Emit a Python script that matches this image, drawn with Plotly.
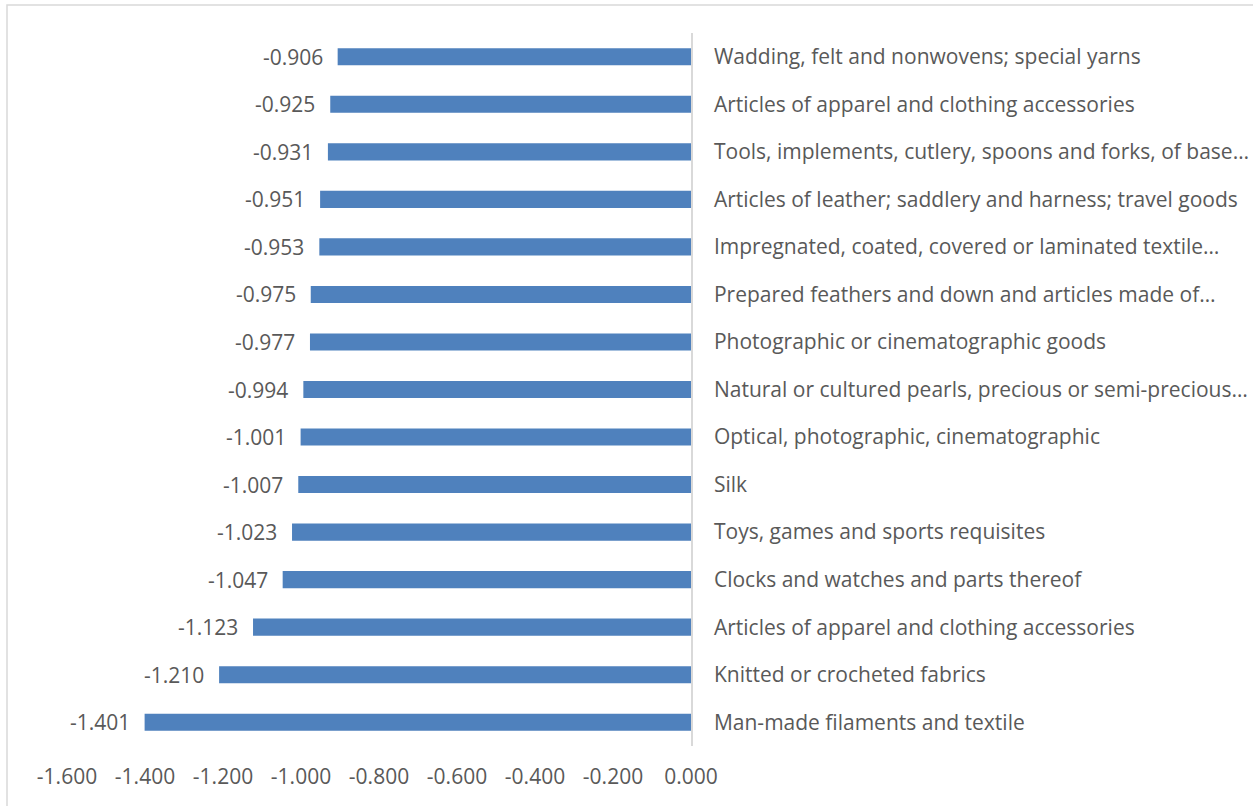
import plotly.graph_objects as go

categories = [
    "Wadding, felt and nonwovens; special yarns",
    "Articles of apparel and clothing accessories",
    "Tools, implements, cutlery, spoons and forks, of base…",
    "Articles of leather; saddlery and harness; travel goods",
    "Impregnated, coated, covered or laminated textile…",
    "Prepared feathers and down and articles made of…",
    "Photographic or cinematographic goods",
    "Natural or cultured pearls, precious or semi-precious…",
    "Optical, photographic, cinematographic",
    "Silk",
    "Toys, games and sports requisites",
    "Clocks and watches and parts thereof",
    "Articles of apparel and clothing accessories",
    "Knitted or crocheted fabrics",
    "Man-made filaments and textile",
]
values = [-0.906, -0.925, -0.931, -0.951, -0.953, -0.975, -0.977, -0.994,
          -1.001, -1.007, -1.023, -1.047, -1.123, -1.210, -1.401]
x_ticks = [-1.6, -1.4, -1.2, -1.0, -0.8, -0.6, -0.4, -0.2, 0.0]

W, H = 1253, 806
ML, MR, MT, MB = 67, 562, 33, 60
FONT = "Open Sans"
FS = 21
TXT = "#595959"
BAR = "#4f81bd"

pos = list(range(len(categories)))

fig = go.Figure(
    go.Bar(
        x=values,
        y=pos,
        orientation="h",
        width=0.36,
        marker=dict(color=BAR, line=dict(width=0)),
        hoverinfo="skip",
    )
)

for p, v in zip(pos, values):
    fig.add_annotation(
        x=v, y=p, text=f"{v:.3f}", showarrow=False,
        xanchor="right", yanchor="middle", xshift=-13,
        font=dict(family=FONT, size=FS, color=TXT),
    )

# chart frame (pixel positions converted to paper units)
pw = W - ML - MR
ph = H - MT - MB
fig.add_shape(
    type="rect", xref="paper", yref="paper",
    x0=(7 - ML) / pw, x1=(W + 5 - ML) / pw,
    y0=(H - MB - (H + 5)) / ph, y1=(H - MB - 5) / ph,
    line=dict(color="#d9d9d9", width=1.5), fillcolor="rgba(0,0,0,0)",
    layer="below",
)

fig.update_layout(
    width=W, height=H,
    margin=dict(l=ML, r=MR, t=MT, b=MB),
    paper_bgcolor="white", plot_bgcolor="white",
    showlegend=False,
    font=dict(family=FONT, size=FS, color=TXT),
    xaxis=dict(
        range=[-1.6, 0], tickvals=x_ticks,
        ticktext=[f"{t:.3f}" for t in x_ticks],
        showgrid=False, zeroline=False, showline=False, ticks="",
        ticklabelstandoff=16, automargin=False,
        tickfont=dict(family=FONT, size=FS, color=TXT),
    ),
    yaxis=dict(
        range=[len(categories) - 0.5, -0.5],
        tickvals=pos, ticktext=categories,
        side="right", showgrid=False, zeroline=False,
        showline=True, linecolor="#d9d9d9", linewidth=1.5,
        ticks="", ticklabelstandoff=17, automargin=False,
        tickfont=dict(family=FONT, size=FS, color=TXT),
    ),
)

fig.write_html("out.html")
